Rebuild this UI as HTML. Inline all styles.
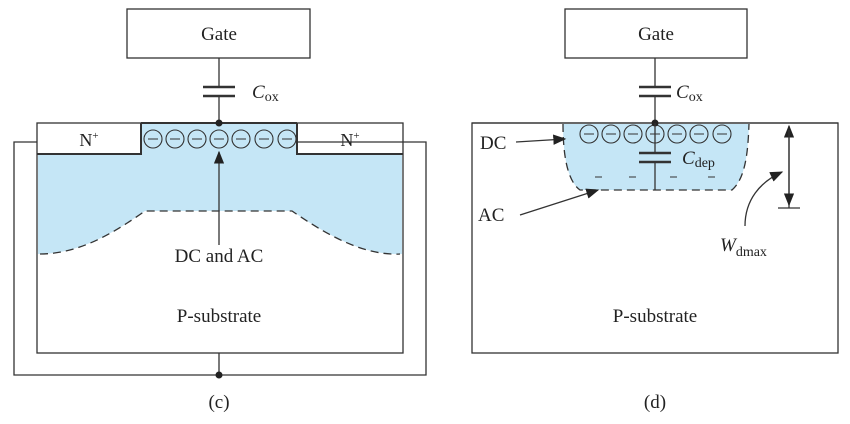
<!DOCTYPE html>
<html><head><meta charset="utf-8"><style>
body{margin:0;background:#fff}
svg{display:block;font-family:"Liberation Serif",serif}
text{fill:#222}
</style></head><body>
<svg width="850" height="424" viewBox="0 0 850 424">
<defs><marker id="ah" markerWidth="10" markerHeight="8" refX="9" refY="4" orient="auto"><path d="M0,0 L10,4 L0,8 Z" fill="#222"/></marker></defs>
<g stroke="#333" fill="none" stroke-width="1.3">
<rect x="127" y="9" width="183" height="49" fill="#fff"/>
<text x="219" y="40" font-size="19" text-anchor="middle" stroke="none">Gate</text>
<line x1="219" y1="58" x2="219" y2="87"/><line x1="219" y1="96" x2="219" y2="123"/>
<line x1="203" y1="87" x2="235" y2="87" stroke-width="2.5"/><line x1="203" y1="96" x2="235" y2="96" stroke-width="2.5"/>
<text x="252" y="98" font-size="19" font-style="italic" stroke="none">C<tspan font-size="14" font-style="normal" dy="3">ox</tspan></text>
<rect x="37" y="123" width="366" height="230"/>
<path d="M38,154 L141,154 L141,124 L297,124 L297,154 L402,154 L402,254 C360,256 320,230 292,211 L145,211 C115,232 80,254 38,254 Z" fill="#c5e6f6" stroke="none"/>
<path d="M40,254 C80,254 115,232 145,211 L292,211 C320,230 360,256 400,254" stroke-dasharray="8,5"/>
<path d="M141,123 L141,154 L37,154 M297,123 L297,154 L403,154" stroke-width="2"/>
<line x1="141" y1="123" x2="297" y2="123" stroke-width="2"/>
<text x="89" y="146" font-size="18" text-anchor="middle" stroke="none">N<tspan font-size="11" dy="-7">+</tspan></text>
<text x="350" y="146" font-size="18" text-anchor="middle" stroke="none">N<tspan font-size="11" dy="-7">+</tspan></text>
<g stroke-width="1.1">
<circle cx="153" cy="139" r="9"/><circle cx="175" cy="139" r="9"/><circle cx="197" cy="139" r="9"/><circle cx="219" cy="139" r="9"/><circle cx="241" cy="139" r="9"/><circle cx="264" cy="139" r="9"/><circle cx="287" cy="139" r="9"/>
<path d="M148,139h10M170,139h10M192,139h10M214,139h10M236,139h10M259,139h10M282,139h10"/>
</g>
<circle cx="219" cy="123" r="3.5" fill="#222" stroke="none"/>
<line x1="219" y1="245" x2="219" y2="152" marker-end="url(#ah)"/>
<text x="219" y="262" font-size="19" text-anchor="middle" stroke="none">DC and AC</text>
<text x="219" y="322" font-size="19" text-anchor="middle" stroke="none">P-substrate</text>
<path d="M37,142 L14,142 L14,375 L426,375 L426,142 L297,142"/>
<line x1="219" y1="353" x2="219" y2="375"/>
<circle cx="219" cy="375" r="3.5" fill="#222" stroke="none"/>
<text x="219" y="408" font-size="19" text-anchor="middle" stroke="none">(c)</text>
</g>
<g stroke="#333" fill="none" stroke-width="1.3">
<rect x="565" y="9" width="182" height="49"/>
<text x="656" y="40" font-size="19" text-anchor="middle" stroke="none">Gate</text>
<line x1="655" y1="58" x2="655" y2="87"/><line x1="655" y1="96" x2="655" y2="123"/>
<line x1="639" y1="87" x2="671" y2="87" stroke-width="2.5"/><line x1="639" y1="96" x2="671" y2="96" stroke-width="2.5"/>
<text x="676" y="98" font-size="19" font-style="italic" stroke="none">C<tspan font-size="14" font-style="normal" dy="3">ox</tspan></text>
<rect x="472" y="123" width="366" height="230"/>
<path d="M563,124 L749,124 C748,150 746,178 732,190 L580,190 C566,180 563,150 563,124 Z" fill="#c5e6f6" stroke="none"/>
<path d="M563,124 C563,150 566,180 580,190 L732,190 C746,178 748,150 749,124" stroke-dasharray="8,5"/>
<line x1="472" y1="123" x2="838" y2="123"/>
<g stroke-width="1.1">
<circle cx="589" cy="134" r="9"/><circle cx="611" cy="134" r="9"/><circle cx="633" cy="134" r="9"/><circle cx="655" cy="134" r="9"/><circle cx="677" cy="134" r="9"/><circle cx="699" cy="134" r="9"/><circle cx="722" cy="134" r="9"/>
<path d="M584,134h10M606,134h10M628,134h10M650,134h10M672,134h10M694,134h10M717,134h10"/>
</g>
<circle cx="655" cy="123" r="3.5" fill="#222" stroke="none"/>
<line x1="655" y1="123" x2="655" y2="153"/><line x1="655" y1="162" x2="655" y2="190"/>
<line x1="639" y1="153" x2="671" y2="153" stroke-width="2.5"/><line x1="639" y1="162" x2="671" y2="162" stroke-width="2.5"/>
<text x="682" y="164" font-size="19" font-style="italic" stroke="none">C<tspan font-size="14" font-style="normal" dy="3">dep</tspan></text>
<path d="M595,177h7M629,177h7M670,177h7M708,177h7" stroke-width="1"/>
<text x="480" y="149" font-size="19" stroke="none">DC</text>
<line x1="516" y1="142" x2="565" y2="139" marker-end="url(#ah)"/>
<text x="478" y="221" font-size="19" stroke="none">AC</text>
<line x1="520" y1="215" x2="598" y2="190" marker-end="url(#ah)"/>
<line x1="789" y1="208" x2="789" y2="126" marker-end="url(#ah)"/>
<line x1="789" y1="130" x2="789" y2="205" marker-end="url(#ah)"/>
<line x1="778" y1="208" x2="800" y2="208"/>
<path d="M745,226 C745,200 760,182 782,172" marker-end="url(#ah)"/>
<text x="720" y="251" font-size="19" font-style="italic" stroke="none">W<tspan font-size="14" font-style="normal" dy="5">dmax</tspan></text>
<text x="655" y="322" font-size="19" text-anchor="middle" stroke="none">P-substrate</text>
<text x="655" y="408" font-size="19" text-anchor="middle" stroke="none">(d)</text>
</g>
</svg>
</body></html>
